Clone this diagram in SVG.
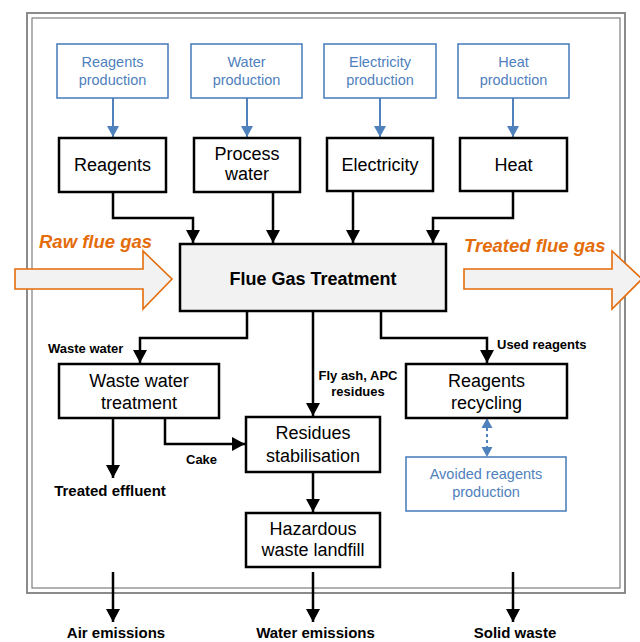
<svg xmlns="http://www.w3.org/2000/svg" width="640" height="642" viewBox="0 0 640 642">
<style>
  .frame { fill: none; stroke: #7f7f7f; }
  .blue { fill: #ffffff; stroke: #4f81bd; stroke-width: 1.6; }
  .bluet { fill: #4f81bd; font-family: "Liberation Sans", Arial, sans-serif; font-size: 14.5px; text-anchor: middle; }
  .box { fill: #ffffff; stroke: #000000; stroke-width: 2.5; }
  .fgt { fill: #f2f2f2; stroke: #000000; stroke-width: 2.5; }
  .t { fill: #000000; font-family: "Liberation Sans", Arial, sans-serif; font-size: 18px; text-anchor: middle; }
  .lbl { fill: #000000; font-family: "Liberation Sans", Arial, sans-serif; font-size: 13px; font-weight: bold; }
  .out { fill: #000000; font-family: "Liberation Sans", Arial, sans-serif; font-size: 15px; font-weight: bold; text-anchor: middle; }
  .orange { fill: #f2f2f2; stroke: #e46c0a; stroke-width: 1.6; }
  .ot { fill: #e46c0a; font-family: "Liberation Sans", Arial, sans-serif; font-size: 18.5px; font-weight: bold; font-style: italic; }
  .c { fill: none; stroke: #000000; stroke-width: 2.5; marker-end: url(#ah); }
  .cb { fill: none; stroke: #4f81bd; stroke-width: 2; marker-end: url(#ahb); }
  .cd { fill: none; stroke: #4f81bd; stroke-width: 2; stroke-dasharray: 3 3; }
</style>
<defs>
  <marker id="ah" markerUnits="userSpaceOnUse" markerWidth="14" markerHeight="14" refX="13" refY="7" orient="auto">
    <path d="M0,0 L13,7 L0,14 z" fill="#000000"/>
  </marker>
  <marker id="ahb" markerUnits="userSpaceOnUse" markerWidth="12" markerHeight="12" refX="11" refY="6" orient="auto">
    <path d="M0,0 L11,6 L0,12 z" fill="#4f81bd"/>
  </marker>
</defs>
<rect x="0" y="0" width="640" height="642" fill="#ffffff"/>
<g id="frame">
  <rect class="frame" x="27" y="13" width="598" height="580" stroke-width="1.8"/>
  <rect class="frame" x="32" y="18" width="588" height="570" stroke-width="1.2"/>
</g>
<g id="connectors">
  <path class="cb" d="M113,98 V137"/>
  <path class="cb" d="M247,98 V137"/>
  <path class="cb" d="M380,98 V137"/>
  <path class="cb" d="M513,98 V137"/>
  <path class="c" d="M113,192 V218 H193 V243"/>
  <path class="c" d="M273,192 V243"/>
  <path class="c" d="M353,191 V243"/>
  <path class="c" d="M513,191 V218 H433 V243"/>
  <path class="c" d="M247,311 V338 H140 V363"/>
  <path class="c" d="M313,311 V416"/>
  <path class="c" d="M381,311 V338 H487 V363"/>
  <path class="c" d="M113,418 V478"/>
  <path class="c" d="M165,418 V444 H245"/>
  <path class="c" d="M313,472 V512"/>
  <path class="cd" d="M487,428 V447"/>
  <path d="M487,418 L481.5,428 L492.5,428 z" fill="#4f81bd"/>
  <path d="M487,457 L481.5,447 L492.5,447 z" fill="#4f81bd"/>
  <path class="c" d="M113,572 V622"/>
  <path class="c" d="M313,572 V622"/>
  <path class="c" d="M513,572 V622"/>
</g>
<g id="raw-flue-gas">
  <path class="orange" d="M15,269 H143 V251 L172,279 L143,309 V289 H15 Z"/>
  <text class="ot" x="39" y="247.5">Raw flue gas</text>
</g>
<g id="treated-flue-gas">
  <path class="orange" d="M464,269 H612 V251 L642,279 L612,309 V289 H464 Z"/>
  <text class="ot" x="464" y="251.5">Treated flue gas</text>
</g>
<g id="reagents-production">
  <rect class="blue" x="57" y="44" width="111" height="54"/>
  <text class="bluet" x="112.5" y="67">Reagents</text>
  <text class="bluet" x="112.5" y="85">production</text>
</g>
<g id="water-production">
  <rect class="blue" x="191" y="44" width="111" height="54"/>
  <text class="bluet" x="246.5" y="67">Water</text>
  <text class="bluet" x="246.5" y="85">production</text>
</g>
<g id="electricity-production">
  <rect class="blue" x="324" y="44" width="112" height="54"/>
  <text class="bluet" x="380" y="67">Electricity</text>
  <text class="bluet" x="380" y="85">production</text>
</g>
<g id="heat-production">
  <rect class="blue" x="458" y="44" width="111" height="54"/>
  <text class="bluet" x="513.5" y="67">Heat</text>
  <text class="bluet" x="513.5" y="85">production</text>
</g>
<g id="reagents">
  <rect class="box" x="59" y="138" width="107" height="54"/>
  <text class="t" x="112.5" y="171">Reagents</text>
</g>
<g id="process-water">
  <rect class="box" x="194" y="138" width="106" height="54"/>
  <text class="t" x="247" y="160">Process</text>
  <text class="t" x="247" y="179.5">water</text>
</g>
<g id="electricity">
  <rect class="box" x="327" y="138" width="106" height="53"/>
  <text class="t" x="380" y="171">Electricity</text>
</g>
<g id="heat">
  <rect class="box" x="460" y="138" width="107" height="53"/>
  <text class="t" x="513.5" y="171">Heat</text>
</g>
<g id="flue-gas-treatment">
  <rect class="fgt" x="180" y="244" width="266" height="67"/>
  <text class="t" x="313" y="284.5" font-weight="bold" font-size="18.5px">Flue Gas Treatment</text>
</g>
<g id="waste-water-treatment">
  <rect class="box" x="59" y="364" width="160" height="54" stroke-width="2"/>
  <text class="t" x="139" y="386.5">Waste water</text>
  <text class="t" x="139" y="408.5">treatment</text>
</g>
<g id="residues-stabilisation">
  <rect class="box" x="246" y="417" width="134" height="55"/>
  <text class="t" x="313" y="438.5">Residues</text>
  <text class="t" x="313" y="461.5">stabilisation</text>
</g>
<g id="reagents-recycling">
  <rect class="box" x="406" y="364" width="161" height="54"/>
  <text class="t" x="486.5" y="386.5">Reagents</text>
  <text class="t" x="486.5" y="408.5">recycling</text>
</g>
<g id="avoided-reagents-production">
  <rect class="blue" x="406" y="457" width="160" height="54"/>
  <text class="bluet" x="486" y="479">Avoided reagents</text>
  <text class="bluet" x="486" y="497">production</text>
</g>
<g id="hazardous-waste-landfill">
  <rect class="box" x="246" y="513" width="134" height="54"/>
  <text class="t" x="313" y="534.5">Hazardous</text>
  <text class="t" x="313" y="555.5">waste landfill</text>
</g>
<g id="labels">
  <text class="lbl" x="48" y="352.5">Waste water</text>
  <text class="lbl" x="497" y="348.5">Used reagents</text>
  <text class="lbl" x="358" y="379.5" text-anchor="middle">Fly ash, APC</text>
  <text class="lbl" x="358" y="395.5" text-anchor="middle">residues</text>
  <text class="lbl" x="186" y="463.5">Cake</text>
  <text class="out" x="110" y="496">Treated effluent</text>
  <text class="out" x="116" y="638">Air emissions</text>
  <text class="out" x="315.5" y="638">Water emissions</text>
  <text class="out" x="515" y="638">Solid waste</text>
</g>
</svg>
